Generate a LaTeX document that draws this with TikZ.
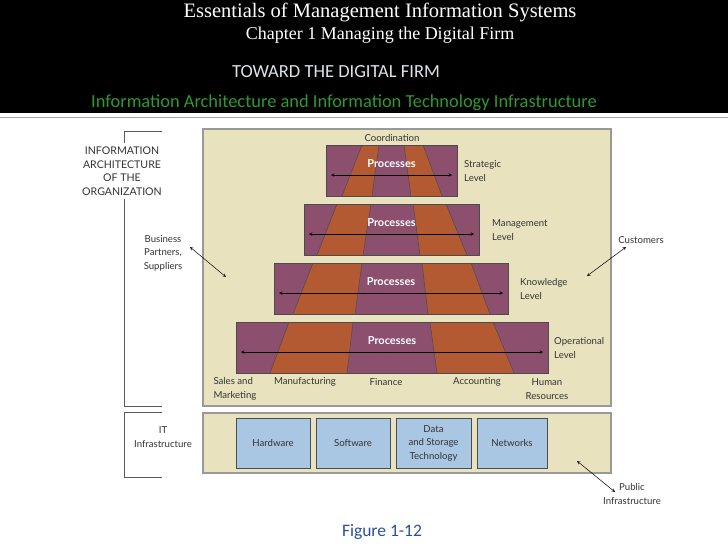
\documentclass[tikz,border=0pt]{standalone}
\usepackage{fontspec}
\setmainfont{Liberation Serif}
\newfontfamily\slidefont{Carlito}
\newfontfamily\figfont{Lato}
\definecolor{procpurple}{HTML}{8C4F6E}
\definecolor{procorange}{HTML}{B35A32}
\definecolor{paneltan}{HTML}{E8E3BE}
\definecolor{techblue}{HTML}{A9C6E2}
\definecolor{slidegreen}{HTML}{2E9A2E}
\definecolor{figblue}{HTML}{2B4F9E}
\definecolor{capgray}{HTML}{DDE3EA}
\tikzset{
  lbl/.style={font=\figfont\fontsize{9.6}{13.5}\selectfont,text=black!80,align=center,inner sep=1pt},
  proctext/.style={font=\figfont\bfseries\fontsize{11}{12}\selectfont,text=white,inner sep=0pt},
  techbox/.style={draw=gray!60!black,fill=techblue,line width=0.8pt,minimum height=50pt,
    inner sep=0pt,font=\figfont\fontsize{9.6}{13.5}\selectfont,text=black!80,align=center},
  panel/.style={draw=gray!80,fill=paneltan,line width=1.2pt},
  bracket/.style={draw=gray!70!black,line width=0.7pt},
  dbl/.style={<->,>=stealth,line width=0.5pt},
}
\begin{document}
\begin{tikzpicture}[x=1pt,y=-1pt]
\useasboundingbox[fill=white] (0,0) rectangle (728,546);
% slide header
\fill[black] (0,0) rectangle (728,113);
\draw[gray!70,line width=0.8pt] (0,117) -- (728,117);
\node[text=white,font=\fontsize{20.5}{22}\selectfont] (book) at (380,12) {Essentials of Management Information Systems};
\node[text=white,font=\fontsize{18}{20}\selectfont] (chapter) at (380,35) {Chapter 1 Managing the Digital Firm};
\node[text=capgray,font=\slidefont\fontsize{18.5}{20}\selectfont] (toward) at (336,72) {TOWARD THE DIGITAL FIRM};
\node[text=slidegreen,font=\slidefont\fontsize{18.4}{20}\selectfont] (subtitle) at (344,103) {Information Architecture and Information Technology Infrastructure};

% panels and brackets
\draw[panel] (203,129) rectangle (611,406);
\draw[panel] (203,413) rectangle (611,473);
\draw[bracket] (162,131) -- (124,131) -- (124,406) -- (162,406);
\draw[bracket] (162,412) -- (124,412) -- (124,477) -- (162,477);
\node[lbl,fill=white,font=\figfont\fontsize{10.6}{13.5}\selectfont,inner ysep=4pt] (infoarch) at (122,171)
  {INFORMATION\\ARCHITECTURE\\OF THE\\ORGANIZATION};
\node[lbl] (itinfra) at (163,437) {IT\\Infrastructure};
\node[lbl] (coord) at (392,138) {Coordination};

% the four levels
\foreach \nm/\xa/\xb/\ya/\ta/\ba/\tb/\bb/\tc/\bc/\td/\bd/\lx in {
  Strategic/326/457/145/362/342/379/372/404/411/423/442/463,
  Management/304/479/204/337/317/371/363/413/420/446/467/491,
  Knowledge/274/508/263/313/293/362/355/422/428/471/490/519,
  Operational/236/548/322/289/270/353/347/430/437/493/514/553}
{
  \fill[procpurple] (\xa,\ya) rectangle (\xb,\ya+51);
  \fill[procorange] (\ta,\ya) -- (\tb,\ya) -- (\bb,\ya+51) -- (\ba,\ya+51) -- cycle;
  \fill[procorange] (\tc,\ya) -- (\td,\ya) -- (\bd,\ya+51) -- (\bc,\ya+51) -- cycle;
  \draw[black!70,line width=0.5pt] (\ta,\ya) -- (\ba,\ya+51) (\tb,\ya) -- (\bb,\ya+51)
    (\tc,\ya) -- (\bc,\ya+51) (\td,\ya) -- (\bd,\ya+51);
  \draw[gray!60!black,line width=0.8pt] (\xa,\ya) rectangle (\xb,\ya+51);
  \node[proctext] (\nm-proc) at ({(\xa+\xb)/2},\ya+19) {Processes};
  \coordinate (\nm-w) at (\xa+5,\ya+30);
  \coordinate (\nm-e) at (\xb-5,\ya+30);
  \draw[dbl] (\nm-w) -- (\nm-e);
  \node[lbl,anchor=west,align=left] (\nm-lvl) at (\lx,\ya+26) {\nm\\Level};
}

% business functions
\node[lbl,align=left] (sales) at (235,389) {Sales and\\Marketing};
\node[lbl] (manuf) at (305,382) {Manufacturing};
\node[lbl] (finance) at (386,382) {Finance};
\node[lbl] (accounting) at (477,382) {Accounting};
\node[lbl] (hr) at (547,389) {Human\\Resources};

% IT infrastructure
\node[techbox,minimum width=74pt] (hardware) at (273,443) {Hardware};
\node[techbox,minimum width=74pt] (software) at (353,443) {Software};
\node[techbox,minimum width=75pt] (data) at (433.5,443) {Data\\and Storage\\Technology};
\node[techbox,minimum width=70pt] (networks) at (512,443) {Networks};

% outside parties
\node[lbl] (partners) at (163,253) {Business\\Partners,\\Suppliers};
\coordinate (partners-tip) at (190,247);
\coordinate (panel-left) at (226,277);
\draw[dbl] (partners-tip) -- (panel-left);
\node[lbl] (customers) at (641,240) {Customers};
\coordinate (customers-tip) at (626,247);
\coordinate (panel-right) at (587,276);
\draw[dbl] (customers-tip) -- (panel-right);
\node[lbl] (public) at (632,494) {Public\\Infrastructure};
\coordinate (public-tip) at (615,492);
\coordinate (panel-it) at (577,461);
\draw[dbl] (public-tip) -- (panel-it);

% caption
\node[text=figblue,font=\slidefont\fontsize{17.5}{19}\selectfont] (caption) at (382,532) {Figure 1-12};
\end{tikzpicture}
\end{document}
